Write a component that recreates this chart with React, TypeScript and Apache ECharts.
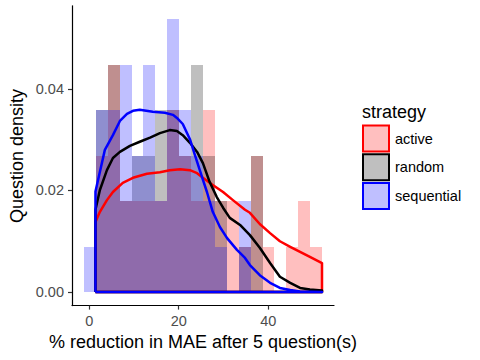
import React, { useEffect, useRef } from "react";
import * as echarts from "echarts";

// Histogram bins (left edges), shared bin width, and counts per strategy
const binLefts = [-1.18, 1.48, 4.14, 6.8, 9.46, 12.12, 14.78, 17.44, 20.1, 22.76, 25.42, 28.08, 30.74, 33.4, 36.06, 38.72, 41.38, 44.04, 46.7, 49.36];
const binWidth = 2.66;
const activeCounts = [0, 3, 5, 2, 2, 2, 2, 4, 3, 2, 4, 2, 2, 1, 3, 1, 0, 1, 2, 1];
const randomCounts = [0, 4, 5, 2, 3, 3, 4, 4, 3, 5, 3, 2, 0, 1, 3, 0, 0, 0, 0, 0];
const sequentialCounts = [1, 4, 4, 5, 3, 5, 2, 6, 4, 3, 2, 1, 0, 2, 0, 0, 0, 0, 0, 0];

// Density curves: [x, density]
const activeDensity: [number, number][] = [
  [1.4, 0.0138], [2.39, 0.0158], [3.96, 0.0181], [5.3, 0.0197], [7.5, 0.0215], [9.77, 0.0225],
  [12.9, 0.0233], [15.8, 0.0236], [18.0, 0.024], [20.3, 0.0242], [22.5, 0.024], [24.1, 0.0234],
  [25.4, 0.0225], [27.6, 0.0211], [29.9, 0.0197], [32.1, 0.0181], [34.8, 0.0162], [35.9, 0.0156],
  [38.1, 0.0134], [40.4, 0.0116], [42.6, 0.01], [44.9, 0.0089], [47.1, 0.0079], [49.3, 0.0069], [52.0, 0.0057],
];
const randomDensity: [number, number][] = [
  [1.4, 0.0162], [2.39, 0.0201], [3.96, 0.024], [5.3, 0.0264], [6.86, 0.0276], [9.1, 0.0288],
  [11.3, 0.0296], [13.6, 0.0304], [15.8, 0.0313], [18.0, 0.0319], [19.6, 0.0317], [20.9, 0.0309],
  [22.5, 0.0294], [24.1, 0.0276], [25.4, 0.0254], [26.9, 0.0217], [28.5, 0.0187], [29.9, 0.0166],
  [31.4, 0.0146], [33.7, 0.0132], [35.9, 0.0112], [38.1, 0.0087], [40.4, 0.0057], [42.6, 0.003],
  [44.9, 0.0018], [47.1, 0.0008], [49.3, 0.0005], [52.0, 0.0003],
];
const sequentialDensity: [number, number][] = [
  [1.4, 0.0198], [3.5, 0.028], [5.3, 0.0309], [6.86, 0.0337], [8.44, 0.0351], [9.77, 0.0357],
  [11.3, 0.0359], [14.2, 0.0355], [16.9, 0.0353], [18.7, 0.0349], [19.6, 0.0343], [20.9, 0.0331],
  [22.5, 0.0301], [23.6, 0.027], [24.7, 0.024], [26.3, 0.0197], [27.6, 0.0158], [29.2, 0.0128],
  [30.8, 0.0106], [33.0, 0.0083], [34.8, 0.0067], [35.9, 0.0053], [38.1, 0.0033], [40.4, 0.0018],
  [42.6, 0.0008], [44.9, 0.0004], [47.1, 0.0001], [52.0, 0],
];

const strategies = ["active", "random", "sequential"];
const xTicks = [0, 20, 40];
const yTicks = [0, 0.02, 0.04];

const FONT = "'Liberation Sans', Arial, Helvetica, sans-serif";

export default function App() {
  const ref = useRef<HTMLDivElement>(null);
  useEffect(() => {
    if (!ref.current) return;
    const chart = echarts.init(ref.current, undefined, { renderer: "svg" });
    const total = 42;
    const toBins = (counts: number[]) =>
      counts.map((c, i) => [binLefts[i], binLefts[i] + binWidth, c / (total * binWidth)]);
    const fills = ["rgba(255,0,0,0.25)", "rgba(0,0,0,0.25)", "rgba(0,0,255,0.25)"];
    const lineColors = ["#FF0000", "#000000", "#0000FF"];
    const allCounts = [activeCounts, randomCounts, sequentialCounts];
    const curves = [activeDensity, randomDensity, sequentialDensity];

    const barSeries = allCounts.map((counts, si) => ({
      type: "custom",
      name: strategies[si] + "_hist",
      data: toBins(counts),
      encode: { x: [0, 1], y: 2 },
      clip: false,
      renderItem: (_p: any, api: any) => {
        const h = api.value(2);
        if (!h) return null;
        const p0 = api.coord([api.value(0), h]);
        const p1 = api.coord([api.value(1), 0]);
        const x0 = Math.round(p0[0]);
        const x1 = Math.round(p1[0]);
        const y0 = Math.round(p0[1]);
        const y1 = Math.round(p1[1]);
        return {
          type: "rect",
          shape: { x: x0, y: y0, width: x1 - x0, height: y1 - y0 },
          style: { fill: fills[si], stroke: null },
        };
      },
      z: 1,
    }));

    const lineSeries = curves.map((c, si) => {
      const x0 = c[0][0];
      const x1 = c[c.length - 1][0];
      const pts = [[x0, 0], ...c, [x1, 0], [x0, 0]];
      return {
        type: "line",
        name: strategies[si],
        data: pts,
        showSymbol: false,
        symbol: "none",
        smooth: false,
        lineStyle: { color: lineColors[si], width: 2.5, join: "round" },
        z: 3,
      };
    });

    const rowY = [125.5, 154.2, 182.9];
    const legendGraphics: any[] = [
      {
        type: "text",
        left: 362,
        top: 103,
        style: { text: "strategy", font: `18px ${FONT}`, fill: "#000" },
      },
    ];
    strategies.forEach((s, i) => {
      legendGraphics.push({
        type: "rect",
        shape: { x: 363, y: rowY[i], width: 26, height: 26 },
        style: { fill: fills[i], stroke: lineColors[i], lineWidth: 2 },
      });
      legendGraphics.push({
        type: "text",
        x: 395,
        y: rowY[i] + 13,
        style: {
          text: s,
          font: `14.5px ${FONT}`,
          fill: "#000",
          textVerticalAlign: "middle",
          verticalAlign: "middle",
        },
      });
    });

    chart.setOption({
      animation: false,
      backgroundColor: "#fff",
      grid: { left: 72, right: 146, top: 5.8, bottom: 54.4, containLabel: false },
      xAxis: {
        type: "value",
        min: -3.84,
        max: 54.68,
        splitLine: { show: false },
        axisLine: { onZero: false, lineStyle: { color: "#000", width: 1.2 } },
        axisTick: { show: true, length: 4, lineStyle: { color: "#333", width: 1.2 }, customValues: xTicks },
        axisLabel: {
          customValues: xTicks,
          color: "#4D4D4D",
          fontSize: 14.5,
          fontFamily: FONT,
          margin: 8,
          formatter: (v: number) => String(v),
        },
      },
      yAxis: {
        type: "value",
        min: -0.002685,
        max: 0.05639,
        splitLine: { show: false },
        axisLine: { onZero: false, lineStyle: { color: "#000", width: 1.2 } },
        axisTick: { show: true, length: 4, lineStyle: { color: "#333", width: 1.2 }, customValues: yTicks },
        axisLabel: {
          customValues: yTicks,
          color: "#4D4D4D",
          fontSize: 14.5,
          fontFamily: FONT,
          margin: 8,
          formatter: (v: number) => v.toFixed(2),
        },
      },
      series: [...barSeries, ...lineSeries],
      graphic: [
        {
          type: "text",
          x: 203,
          y: 342,
          style: {
            text: "% reduction in MAE after 5 question(s)",
            font: `18px ${FONT}`,
            fill: "#000",
            textAlign: "center",
            textVerticalAlign: "middle",
            align: "center",
            verticalAlign: "middle",
          },
        },
        {
          type: "text",
          x: 17,
          y: 156,
          rotation: Math.PI / 2,
          style: {
            text: "Question density",
            font: `18px ${FONT}`,
            fill: "#000",
            textAlign: "center",
            textVerticalAlign: "middle",
            align: "center",
            verticalAlign: "middle",
          },
        },
        ...legendGraphics,
      ],
    });
    return () => chart.dispose();
  }, []);
  return <div ref={ref} style={{ width: 480, height: 360, position: "absolute", left: 0, top: 0 }} />;
}
